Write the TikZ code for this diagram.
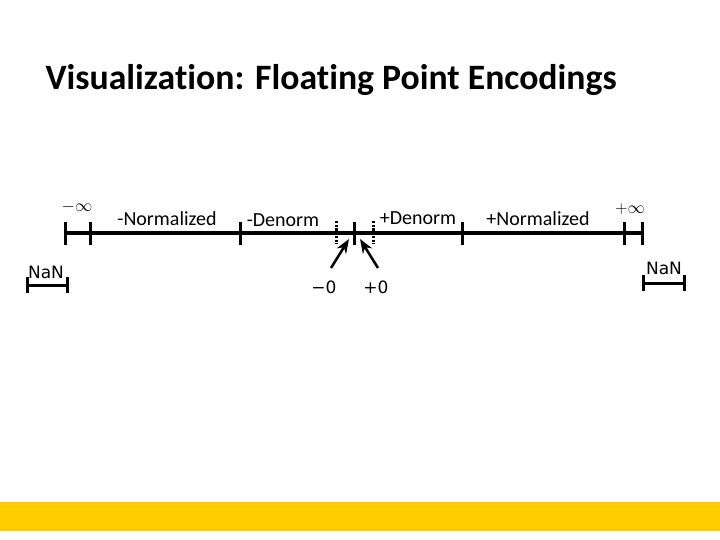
\documentclass[tikz,border=0pt]{standalone}
\usepackage{fontspec}
\setmainfont{Carlito}[Ligatures=CommonOff]
\newfontfamily\nanfont{DejaVu Sans}
\usetikzlibrary{arrows.meta, positioning}

\definecolor{barYellow}{HTML}{FFCC00}

\begin{document}
\begin{tikzpicture}[x=1pt, y=-1pt, >=Stealth, line width=3pt,
    label/.style={font=\fontsize{20}{22}\selectfont, inner sep=0pt},
    inflabel/.style={font=\fontsize{16}{18}\selectfont, inner sep=0pt},
    nanlabel/.style={font=\nanfont\fontsize{17}{19}\selectfont, inner sep=0pt},
    dots/.style={line width=3pt, dash pattern=on 2.5pt off 1.2pt}]
    \useasboundingbox (0,0) rectangle (720,540);
    \fill[barYellow] (0,502) rectangle (720,531);

    \node[anchor=west, inner sep=0pt, font=\bfseries\fontsize{35.7}{40}\selectfont] (title) at (44,80) {Visualization: Floating Point Encodings};

    % number line
    \coordinate (ninf) at (65,233);
    \coordinate (nmax) at (90,233);
    \coordinate (ndn) at (240,233);
    \coordinate (ndd) at (336,233);
    \coordinate (zero) at (354,233);
    \coordinate (pdd) at (373,233);
    \coordinate (pdn) at (462,233);
    \coordinate (pmax) at (624,233);
    \coordinate (pinf) at (642,233);

    \draw (ninf) -- (pinf);
    \foreach \c in {ninf, nmax, ndn, zero, pdn, pmax, pinf}
        \draw ([yshift=11pt]\c) -- ([yshift=-12pt]\c);
    \foreach \c in {ndd, pdd}
        \draw[dots] ([yshift=12pt]\c) -- ([yshift=-11pt]\c);

    \node[inflabel] (minf) at (77,207) {$-\infty$};
    \node[label] (mnorm) at (167,219) {-Normalized};
    \node[label] (mden) at (283,220) {-Denorm};
    \node[label] (pden) at (418,218) {+Denorm};
    \node[label] (pnorm) at (538,219) {+Normalized};
    \node[inflabel] (pinfl) at (630,209) {$+\infty$};

    % NaN ranges
    \coordinate (lnanA) at (27,285);
    \coordinate (lnanB) at (67,285);
    \coordinate (rnanA) at (643,283);
    \coordinate (rnanB) at (684,283);
    \draw (lnanA) -- (lnanB);
    \draw (rnanA) -- (rnanB);
    \foreach \c in {lnanA, lnanB, rnanA, rnanB}
        \draw ([yshift=8pt]\c) -- ([yshift=-8pt]\c);
    \node[nanlabel] (lnan) at (46,272) {NaN};
    \node[nanlabel] (rnan) at (664,268) {NaN};

    % zeros
    \node[nanlabel] (mzero) at (324,287) {−0};
    \node[nanlabel] (pzero) at (376,287) {+0};
    \coordinate (mtail) at (331,268);
    \coordinate (mtip) at (349,239);
    \coordinate (ptail) at (378,268);
    \coordinate (ptip) at (360,239);
    \draw[->, line width=2.5pt] (mtail) -- (mtip);
    \draw[->, line width=2.5pt] (ptail) -- (ptip);
\end{tikzpicture}
\end{document}
